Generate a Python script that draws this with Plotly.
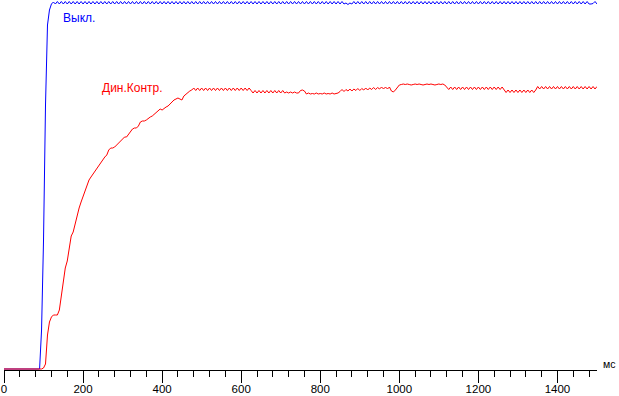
import plotly.graph_objects as go

# sample times (ms), every 5 ms from 0 to 1500
time_ms = list(range(0, 1505, 5))

# "Выкл." response (blue) (0 = baseline, 370 = top)
blue_off = [
    1, 1, 1, 1, 1, 1, 1, 1, 1, 1, 1, 1, 1, 1, 1, 1, 1, 1, 1,
    40, 130, 265, 345, 360, 366,
    368, 366, 368.5, 366, 368.5, 366, 368.5, 366, 368.5, 366, 368.5, 366, 368.5, 366, 368.5, 366, 368.5, 366, 368.5, 366,
    368.5, 366, 368.5, 366, 368.5, 366, 368.5, 366, 368.5, 366, 368.5, 366, 368.5, 366, 368.5, 366, 368.5, 366, 368.5, 366,
    368.5, 366, 368.5, 366, 368.5, 366, 368.5, 366, 368.5, 366, 368.5, 366, 368.5, 366, 368.5, 366, 368.5, 366, 368.5, 366,
    368.5, 366, 368.5, 366, 368.5, 366, 368.5, 366, 368.5, 366, 368.5, 366, 368.5, 366, 368.5, 366, 368.5, 366, 368.5, 366,
    368.5, 366, 368.5, 366, 368.5, 366, 368.5, 366, 368.5, 366, 368.5, 366, 368.5, 366, 368.5, 366, 368.5, 366, 368.5, 366,
    368.5, 366, 368.5, 366, 368.5, 366, 368.5, 366, 368.5, 366, 368.5, 366, 368.5, 366, 368.5, 366, 368.5, 366, 368.5, 366,
    368.5, 366, 368.5, 366, 368.5, 366, 368.5, 366, 368.5, 366, 368.5, 366, 368.5, 366, 368.5, 366, 368.5, 366, 368.5, 366,
    368.5, 366, 368.5, 366, 368.5, 366, 368.5, 366, 367, 365.5, 367, 366, 368.5, 366, 368.5, 366, 368.5, 366, 368.5, 366,
    368.5, 366, 368.5, 366, 368.5, 366, 368.5, 366, 368.5, 366, 368.5, 366, 368.5, 366, 368.5, 366, 368.5, 366, 368.5, 366,
    368.5, 366, 368.5, 366, 368.5, 366, 368.5, 366, 368.5, 366, 368.5, 366, 368.5, 366, 368.5, 366, 368.5, 366, 368.5, 366,
    368.5, 366, 368.5, 366, 368.5, 366, 368.5, 366, 368.5, 366, 368.5, 366, 368.5, 366, 368.5, 366, 368.5, 366, 368.5, 366,
    368.5, 366, 368.5, 366, 368.5, 366, 368.5, 366, 368.5, 366, 368.5, 366, 368.5, 366, 368.5, 366, 368.5, 366, 368.5, 366,
    368.5, 366, 368.5, 366, 368.5, 366, 368.5, 366, 368.5, 366, 368.5, 366, 368.5, 366, 368.5, 366, 368.5, 366, 368.5, 366,
    368.5, 366, 368.5, 366, 368.5, 366, 368.5, 366, 368.5, 366, 368.5, 366, 366, 366.5, 368.5, 366,
]

# "Дин.Контр." response (red)
red_dyn = [
    1, 1, 1, 1, 1, 1, 1, 1, 1, 1, 1, 1, 1, 1, 1, 1, 1, 1, 1, 1,
    2, 6, 35, 48, 53, 55, 55, 55, 60, 74,
    90, 102, 109, 122, 134, 138, 147, 156, 162, 168,
    174, 180, 186, 190, 193, 196, 199, 202, 205, 208,
    210, 213, 215, 220, 222, 222, 223, 225, 227, 229,
    232, 233, 233, 236, 238, 241, 242, 242, 244, 248,
    249, 249, 250, 252, 253, 254, 256, 258, 260, 261,
    260, 262, 263, 264, 266, 269, 270, 271, 272, 271,
    270, 274, 276, 277, 279, 280,
    282, 279.5, 282, 279.5, 282, 279.5, 282, 279.5, 282, 279.5, 282, 279.5, 282, 279.5, 282,
    279.5, 282, 279.5, 282, 279.5, 282, 279.5, 282, 279.5, 282, 279.5, 282, 279.5, 282,
    279.5, 277, 279.5, 277, 279.5, 277, 279.5, 277, 279.5, 277, 279.5, 277, 279.5, 277, 279.5, 277, 279.5,
    277, 278, 277, 278, 277, 278, 277, 277,
    279.5, 280, 279,
    276, 277, 276, 276.5, 276, 277, 276, 276.5, 276, 277, 276, 276.5, 276, 277, 276, 276.5, 277,
    278.5, 280.5, 278.5, 280.5, 279, 281, 279, 281, 279.5, 281.5, 279.5, 281.5, 280,
    282, 280, 282, 280.5, 282.5, 280.5, 282.5, 281, 283, 281, 283, 281, 283,
    279, 278, 280,
    283, 285,
    285.5, 286, 285.5, 286, 285.5, 285, 285.5, 286, 285.5, 286, 285.5, 285,
    285.5, 286, 285.5, 286, 285.5, 285, 285.5, 286, 285.5, 286, 285,
    283, 280.5, 283, 280.5, 283, 280.5, 283, 280.5, 283, 280.5, 283, 280.5, 283, 280.5, 283,
    280.5, 283, 280.5, 283, 280.5, 283, 280.5, 283, 280.5, 283, 280.5, 283, 280.5, 283,
    280, 277.5, 280, 277.5, 280, 277.5, 280, 277.5, 280, 277.5, 280, 277.5, 280, 277.5, 280, 277.5, 280,
    283.5, 281, 283.5, 281, 283.5, 281, 283.5, 281, 283.5, 281, 283.5, 281, 283.5, 281, 283.5, 281,
    283.5, 281, 283.5, 281, 283.5, 281, 283.5, 281, 283.5, 281, 283.5, 281, 283.5, 281, 283.5,
]

tick_values = [0, 200, 400, 600, 800, 1000, 1200, 1400]
tick_labels = ["0", "200", "400", "600", "800", "1000", "1200", "1400"]

FONT = "Liberation Sans, Arial, sans-serif"

fig = go.Figure()
fig.add_trace(go.Scatter(x=time_ms[:len(blue_off)], y=blue_off, mode="lines",
                         line=dict(color="#0000FF", width=1), hoverinfo="skip"))
fig.add_trace(go.Scatter(x=time_ms[:len(red_dyn)], y=red_dyn, mode="lines",
                         line=dict(color="#FF0000", width=1), hoverinfo="skip"))

fig.update_layout(
    template="none",
    width=619, height=396,
    margin=dict(l=4, r=22, t=0, b=26, pad=0),
    paper_bgcolor="white", plot_bgcolor="white",
    showlegend=False,
    xaxis=dict(
        range=[0, 1500], automargin=False,
        showline=True, linecolor="black", linewidth=1,
        showgrid=False, zeroline=False,
        ticks="outside", ticklen=12, tickwidth=1, tickcolor="black",
        tickmode="array", tickvals=tick_values, ticktext=tick_labels,
        ticklabelstandoff=-4,
        tickfont=dict(family=FONT, size=11.5, color="black"),
        minor=dict(dtick=40, tick0=0, ticks="outside", ticklen=6,
                   tickwidth=1, tickcolor="black", showgrid=False),
    ),
    yaxis=dict(range=[0, 370], visible=False, automargin=False),
    annotations=[
        dict(x=143, y=352, xref="x", yref="y", text="Выкл.", showarrow=False,
             xanchor="left", yanchor="middle",
             font=dict(family=FONT, size=12, color="#0000FF")),
        dict(x=244, y=282.5, xref="x", yref="y", text="Дин.Контр.", showarrow=False,
             xanchor="left", yanchor="middle",
             font=dict(family=FONT, size=12, color="#FF0000")),
        dict(x=(601 - 4) / 593, y=6, xref="paper", yref="y", text="мс", showarrow=False,
             xanchor="left", yanchor="middle",
             font=dict(family=FONT, size=10.5, color="black")),
    ],
)

fig.write_html("out.html")
